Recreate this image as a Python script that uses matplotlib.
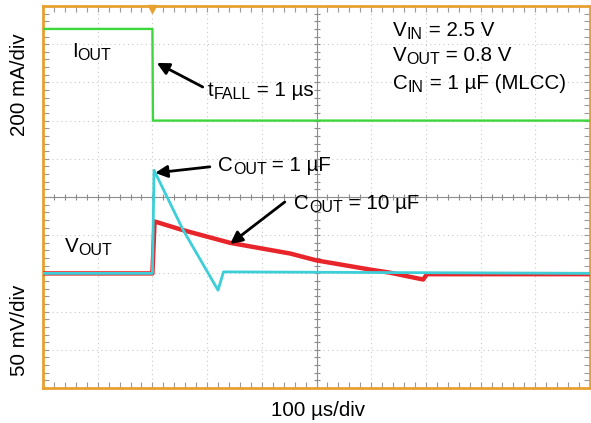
import numpy as np
import matplotlib
matplotlib.use("Agg")
import matplotlib.pyplot as plt

# --- fuente parecida a Helvetica ---
plt.rcParams['font.family'] = ['Liberation Sans', 'DejaVu Sans']

# --- datos leidos de la captura del osciloscopio ---
# corriente de salida (mA), 200 mA/div
t_iout = [0, 200, 201, 1000]           # us
i_out = [480, 480, 0, 0]               # mA

# tension de salida con COUT = 1 uF (mV respecto a 0.8 V), 50 mV/div
t_c1 = [0, 200, 203, 256, 320, 330, 1000]
v_c1 = [0, 0, 135, 57, -22, 2, 0]

# tension de salida con COUT = 10 uF
t_c10 = [0, 200, 204, 254, 342, 452, 500, 598, 634, 695, 702, 1000]
v_c10 = [0, 0, 68, 57, 40, 26, 17, 5, 1, -8, -1, -1]

# escalas y offsets de los canales (en divisiones)
mA_div = 200
mV_div = 50
ofs_iout = 7.0
ofs_vout = 3.0

# colores de la pantalla
verde = '#3DD63D'
cian = '#3CCFD8'
rojo = '#E8252A'
naranja = '#E8A030'

W, H = 591, 423
fig = plt.figure(figsize=(W / 100, H / 100), dpi=100)
ax = fig.add_axes([43 / W, 35 / H, 547 / W, 382 / H])
ax.set_xlim(0, 1000)
ax.set_ylim(0, 10)

# --- reticula del osciloscopio ---
for k in range(1, 10):
    if k != 5:
        ax.axvline(k * 100, color='#C8C8C8', lw=0.8, ls=(0, (1, 3)), zorder=1)
        ax.axhline(k, color='#C8C8C8', lw=0.8, ls=(0, (1, 3)), zorder=1)
ax.axvline(500, color='#8C8C8C', lw=0.8, zorder=1)
ax.axhline(5, color='#8C8C8C', lw=0.8, zorder=1)
# marcas pequenas sobre los ejes centrales
ax.plot(np.arange(0, 1001, 20), np.full(51, 5.0), ls='none', marker='|',
        ms=4, color='#8C8C8C', mew=0.8, zorder=1)
ax.plot(np.full(51, 500.0), np.arange(0, 10.01, 0.2), ls='none', marker='_',
        ms=4, color='#8C8C8C', mew=0.8, zorder=1)

ax.set_xticks(np.arange(0, 1001, 100))
ax.set_xticks(np.arange(0, 1001, 20), minor=True)
ax.set_yticks(np.arange(0, 11, 1))
ax.set_yticks(np.arange(0, 10.01, 0.2), minor=True)
ax.tick_params(which='both', direction='in', top=True, right=True,
               labelbottom=False, labelleft=False, color='#999999',
               length=4, width=0.8)
for lado in ax.spines.values():
    lado.set_color(naranja)
    lado.set_linewidth(2)

# --- trazas ---
ax.plot(t_iout, ofs_iout + np.array(i_out) / mA_div, color=verde, lw=1.7, zorder=3)
ax.plot(t_c10, ofs_vout + np.array(v_c10) / mV_div, color=rojo, lw=3.2, zorder=3)
ax.plot(t_c1, ofs_vout + np.array(v_c1) / mV_div, color=cian, lw=2.0, zorder=4)

# marca de disparo
ax.plot([200], [9.93], marker='v', color=naranja, ms=6, clip_on=False, zorder=5)

# --- textos ---
fs = 14.8
renderer = fig.canvas.get_renderer()


def etiqueta(x, y, partes):
    """Escribe texto con subindices; x, y en pixeles desde arriba a la izquierda (linea base)."""
    for texto, sub in partes:
        tam = fs * 0.78 if sub else fs
        dy = 3 if sub else 0
        t = fig.text(x / W, 1 - (y + dy) / H, texto, fontsize=tam, va='baseline')
        x = t.get_window_extent(renderer).x1


etiqueta(72, 57, [('I', False), ('OUT', True)])
etiqueta(208, 96, [('t', False), ('FALL', True), (' = 1 µs', False)])
etiqueta(218, 171, [('C', False), ('OUT', True), (' = 1 µF', False)])
etiqueta(294, 209, [('C', False), ('OUT', True), (' = 10 µF', False)])
etiqueta(65, 252, [('V', False), ('OUT', True)])
etiqueta(393, 36, [('V', False), ('IN', True), (' = 2.5 V', False)])
etiqueta(393, 61, [('V', False), ('OUT', True), (' = 0.8 V', False)])
etiqueta(393, 89, [('C', False), ('IN', True), (' = 1 µF (MLCC)', False)])

flecha = dict(arrowstyle='-|>', color='black', lw=2, mutation_scale=18,
              shrinkA=0, shrinkB=0)
ax.annotate('', xy=(208, 8.51), xytext=(292, 7.88), arrowprops=flecha)
ax.annotate('', xy=(205, 5.63), xytext=(305, 5.79), arrowprops=flecha)
ax.annotate('', xy=(342, 3.77), xytext=(442, 4.87), arrowprops=flecha)

fig.text(20 / W, 1 - 85 / H, '200 mA/div', rotation=90, fontsize=fs,
         ha='center', va='center')
fig.text(20 / W, 1 - 330 / H, '50 mV/div', rotation=90, fontsize=fs,
         ha='center', va='center')
fig.text(318 / W, 1 - 410 / H, '100 µs/div', fontsize=fs,
         ha='center', va='center')

fig.savefig('out.png', dpi=100)
